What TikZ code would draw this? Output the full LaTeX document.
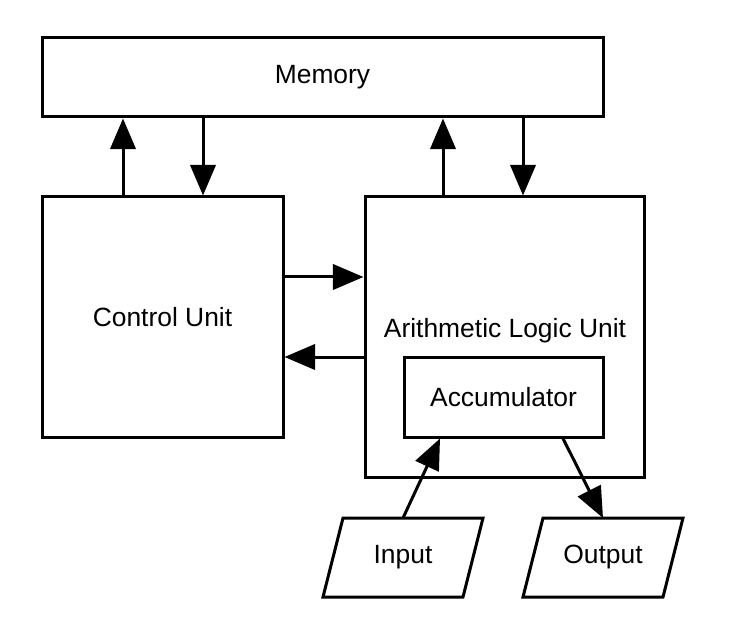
\documentclass[tikz,border=0pt]{standalone}
\usepackage{fontspec}
\setmainfont{Liberation Sans}
\usetikzlibrary{arrows.meta}
\begin{document}
\begin{tikzpicture}[x=0.75pt,y=-0.75pt,
  box/.style={draw,line width=2.25pt,inner sep=0pt},
  conn/.style={line width=2.25pt,-{Triangle[length=23pt,width=19pt]}},
  lbl/.style={font=\fontsize{19.8}{23}\selectfont}]
\useasboundingbox (0,0) rectangle (734,634);
\node[box,lbl,minimum width=420.75pt,minimum height=59.25pt] (mem) at (322.5,77.5) {Memory};
\node[box,lbl,minimum width=180.75pt,minimum height=180pt] (cu) at (162.5,317) {Control Unit};
\node[box,minimum width=209.25pt,minimum height=210pt] (alu) at (504.5,337) {};
\node[lbl] (alulbl) at (505,331) {Arithmetic Logic Unit};
\node[box,lbl,minimum width=149.25pt,minimum height=60pt] (acc) at (503.5,397) {Accumulator};
\draw[box] (343,518) -- (483,518) -- (463,597) -- (323,597) -- cycle;
\node[lbl] (inp) at (403,557) {Input};
\draw[box] (543,518) -- (683,518) -- (663,597) -- (523,597) -- cycle;
\node[lbl] (out) at (603,557) {Output};
\coordinate (x123) at (123,0);
\coordinate (x203) at (203,0);
\coordinate (x443) at (443,0);
\coordinate (x523) at (523,0);
\coordinate (y277) at (0,277);
\coordinate (y357) at (0,357);
\coordinate (x440) at (440,0);
\coordinate (x563) at (563,0);
\coordinate (inptop) at (403,518);
\coordinate (outtop) at (603,518);
\draw[conn] (x123 |- cu.north) -- (x123 |- mem.south);
\draw[conn] (x203 |- mem.south) -- (x203 |- cu.north);
\draw[conn] (x443 |- alu.north) -- (x443 |- mem.south);
\draw[conn] (x523 |- mem.south) -- (x523 |- alu.north);
\draw[conn] (cu.east |- y277) -- (alu.west |- y277);
\draw[conn] (alu.west |- y357) -- (cu.east |- y357);
\draw[conn] (inptop) -- (x440 |- acc.south);
\draw[conn] (x563 |- acc.south) -- (outtop);
\end{tikzpicture}
\end{document}
